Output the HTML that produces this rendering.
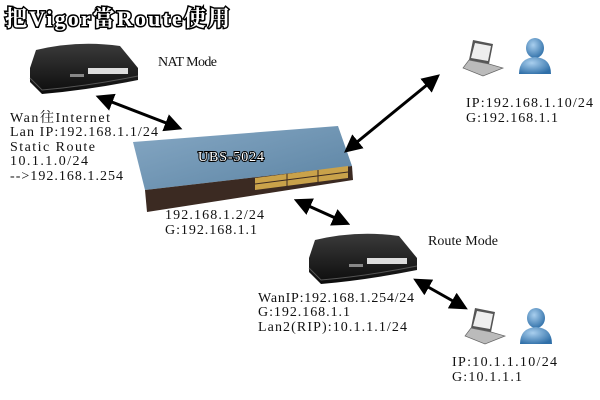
<!DOCTYPE html>
<html><head><meta charset="utf-8"><style>
html,body{margin:0;padding:0;background:#fff;width:600px;height:400px;overflow:hidden}
svg text{font-family:"Liberation Serif","Noto Serif CJK SC",serif;font-size:14px;fill:#111}
</style></head><body>
<svg width="600" height="400" viewBox="0 0 600 400" xmlns="http://www.w3.org/2000/svg">
<defs>
<marker id="ah" markerWidth="6" markerHeight="6" refX="3" refY="3" orient="auto-start-reverse" markerUnits="strokeWidth">
<path d="M0,0 L6,3 L0,6 z" fill="#000"/></marker>
<linearGradient id="rt" x1="0" y1="0" x2="0" y2="1"><stop offset="0" stop-color="#3a3a3a"/><stop offset="1" stop-color="#0c0c0c"/></linearGradient>
<linearGradient id="sw" x1="0" y1="0" x2="1" y2="1"><stop offset="0" stop-color="#86a8c4"/><stop offset="1" stop-color="#5b83a3"/></linearGradient>
<radialGradient id="pp" cx="0.4" cy="0.35" r="0.7"><stop offset="0" stop-color="#a9cfee"/><stop offset="1" stop-color="#2f6fa8"/></radialGradient>
<g id="router">
<path d="M8,12 Q50,2 92,8 L110,30 L110,42 Q60,52 14,56 L2,44 L2,30 Z" fill="url(#rt)"/>
<path d="M2,40 L14,52 Q60,48 110,38" fill="none" stroke="#555" stroke-width="1"/>
<rect x="60" y="30" width="40" height="6" fill="#ddd"/>
<rect x="42" y="36" width="14" height="3" fill="#888"/>
</g>
<g id="laptop">
<path d="M10,2 L30,6 L26,26 L6,22 Z" fill="#555"/>
<path d="M12,5 L28,8 L25,23 L8,20 Z" fill="#eee"/>
<path d="M6,22 L26,26 L40,30 L20,38 L0,30 Z" fill="#bbb" stroke="#666" stroke-width="0.7"/>
</g>
<g id="person">
<ellipse cx="16" cy="10" rx="9" ry="10" fill="url(#pp)"/>
<path d="M0,36 Q0,20 16,19 Q32,20 32,36 Z" fill="url(#pp)"/>
</g>
</defs>
<text x="5" y="26" style="font-size:22px;font-weight:bold;fill:#fff;stroke:#000;stroke-width:3;paint-order:stroke" textLength="225">把Vigor當Route使用</text>

<use href="#router" x="28" y="38"/>
<use href="#router" x="307" y="228"/>

<polygon points="133,142 338,126 352,166 145,190" fill="url(#sw)"/>
<polygon points="145,190 352,166 353,180 147,212" fill="#3b2a22"/>
<polygon points="255,178 348,166 348,178 255,190" fill="#c9a24a"/>
<g stroke="#3b2a22" stroke-width="1">
<line x1="255" y1="184" x2="348" y2="172"/><line x1="287" y1="174" x2="287" y2="187"/><line x1="318" y1="170" x2="318" y2="183"/></g>
<text x="198" y="161" style="font-size:14px;fill:#fff;stroke:#000;stroke-width:2;paint-order:stroke" textLength="66">UBS-5024</text>

<use href="#laptop" x="463" y="38"/><use href="#person" x="519" y="38"/>
<use href="#laptop" x="465" y="306"/><use href="#person" x="520" y="308"/>

<g stroke="#000" stroke-width="3" marker-start="url(#ah)" marker-end="url(#ah)">
<line x1="104" y1="99" x2="174" y2="126"/>
<line x1="351" y1="147" x2="433" y2="80"/>
<line x1="302" y1="203" x2="342" y2="221"/>
<line x1="421" y1="283" x2="460" y2="305"/>
</g>

<text x="158" y="66" textLength="59">NAT Mode</text>
<text x="10" y="122" textLength="100">Wan往Internet</text>
<text x="10" y="136" textLength="148">Lan IP:192.168.1.1/24</text>
<text x="10" y="151" textLength="85">Static Route</text>
<text x="10" y="165" textLength="78">10.1.1.0/24</text>
<text x="10" y="180" textLength="113">--&gt;192.168.1.254</text>
<text x="165" y="219" textLength="99">192.168.1.2/24</text>
<text x="165" y="234" textLength="92">G:192.168.1.1</text>
<text x="466" y="107" textLength="127">IP:192.168.1.10/24</text>
<text x="466" y="122" textLength="92">G:192.168.1.1</text>
<text x="428" y="245" textLength="70">Route Mode</text>
<text x="258" y="302" textLength="156">WanIP:192.168.1.254/24</text>
<text x="258" y="316" textLength="92">G:192.168.1.1</text>
<text x="258" y="331" textLength="149">Lan2(RIP):10.1.1.1/24</text>
<text x="452" y="366" textLength="105">IP:10.1.1.10/24</text>
<text x="452" y="381" textLength="70">G:10.1.1.1</text>
</svg>
</body></html>
